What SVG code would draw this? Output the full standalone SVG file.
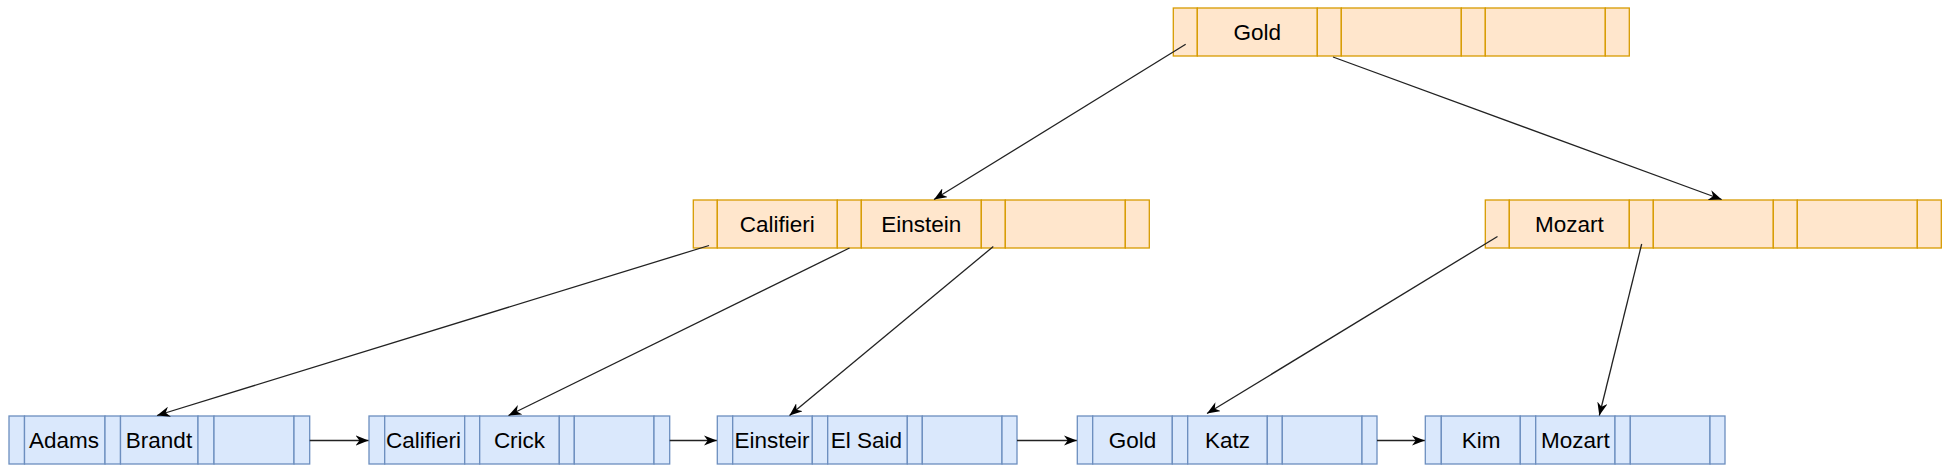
<svg xmlns="http://www.w3.org/2000/svg" width="1950" height="474" viewBox="0 0 1950 474">
<style>
.o{fill:#ffe6cc;stroke:#d79b00;stroke-width:1.3}
.b{fill:#dae8fc;stroke:#6c8ebf;stroke-width:1.3}
.t{font-family:"Liberation Sans",Arial,sans-serif;font-size:22.5px;fill:#000;text-anchor:middle}
.e{fill:none;stroke:#222;stroke-width:1.3}
</style>
<defs>
<marker id="a" viewBox="0 0 10 8" markerUnits="userSpaceOnUse" markerWidth="13" markerHeight="10.4" refX="10" refY="4" orient="auto">
<path d="M0,0 L10,4 L0,8 L3,4 Z" fill="#000"/>
</marker>
</defs>
<rect width="1950" height="474" fill="#fff"/>

<g id="root">
<rect class="o" x="1173.3" y="8" width="24" height="48"/>
<rect class="o" x="1197.3" y="8" width="120" height="48"/>
<rect class="o" x="1317.3" y="8" width="24" height="48"/>
<rect class="o" x="1341.3" y="8" width="120" height="48"/>
<rect class="o" x="1461.3" y="8" width="24" height="48"/>
<rect class="o" x="1485.3" y="8" width="120" height="48"/>
<rect class="o" x="1605.3" y="8" width="24" height="48"/>
<text class="t" x="1257.3" y="39.5">Gold</text>
</g>

<g id="mid-left">
<rect class="o" x="693.3" y="200" width="24" height="48"/>
<rect class="o" x="717.3" y="200" width="120" height="48"/>
<rect class="o" x="837.3" y="200" width="24" height="48"/>
<rect class="o" x="861.3" y="200" width="120" height="48"/>
<rect class="o" x="981.3" y="200" width="24" height="48"/>
<rect class="o" x="1005.3" y="200" width="120" height="48"/>
<rect class="o" x="1125.3" y="200" width="24" height="48"/>
<text class="t" x="777.3" y="231.5">Califieri</text>
<text class="t" x="921.3" y="231.5">Einstein</text>
</g>

<g id="mid-right">
<rect class="o" x="1485.3" y="200" width="24" height="48"/>
<rect class="o" x="1509.3" y="200" width="120" height="48"/>
<rect class="o" x="1629.3" y="200" width="24" height="48"/>
<rect class="o" x="1653.3" y="200" width="120" height="48"/>
<rect class="o" x="1773.3" y="200" width="24" height="48"/>
<rect class="o" x="1797.3" y="200" width="120" height="48"/>
<rect class="o" x="1917.3" y="200" width="24" height="48"/>
<text class="t" x="1569.3" y="231.5">Mozart</text>
</g>

<g id="leaf1">
<rect class="b" x="9" y="416" width="15.5" height="48"/>
<rect class="b" x="24.5" y="416" width="80.5" height="48"/>
<rect class="b" x="105" y="416" width="15.5" height="48"/>
<rect class="b" x="120.5" y="416" width="77.5" height="48"/>
<rect class="b" x="198" y="416" width="16" height="48"/>
<rect class="b" x="214" y="416" width="80" height="48"/>
<rect class="b" x="294" y="416" width="15.7" height="48"/>
<text class="t" x="64" y="447.5">Adams</text>
<text class="t" x="159" y="447.5">Brandt</text>
</g>

<g id="leaf2">
<rect class="b" x="369" y="416" width="15.7" height="48"/>
<rect class="b" x="384.7" y="416" width="80" height="48"/>
<rect class="b" x="464.7" y="416" width="15" height="48"/>
<rect class="b" x="479.7" y="416" width="79.6" height="48"/>
<rect class="b" x="559.3" y="416" width="15" height="48"/>
<rect class="b" x="574.3" y="416" width="79.7" height="48"/>
<rect class="b" x="654" y="416" width="15.7" height="48"/>
<text class="t" x="423.5" y="447.5">Califieri</text>
<text class="t" x="519.5" y="447.5">Crick</text>
</g>

<g id="leaf3">
<rect class="b" x="717.3" y="416" width="15.4" height="48"/>
<rect class="b" x="732.7" y="416" width="79.6" height="48"/>
<rect class="b" x="812.3" y="416" width="15.4" height="48"/>
<rect class="b" x="827.7" y="416" width="79.6" height="48"/>
<rect class="b" x="907.3" y="416" width="15" height="48"/>
<rect class="b" x="922.3" y="416" width="79.7" height="48"/>
<rect class="b" x="1002" y="416" width="15" height="48"/>
<text class="t" x="772" y="447.5">Einsteir</text>
<text class="t" x="866.5" y="447.5">El Said</text>
</g>

<g id="leaf4">
<rect class="b" x="1077.3" y="416" width="15.4" height="48"/>
<rect class="b" x="1092.7" y="416" width="79.6" height="48"/>
<rect class="b" x="1172.3" y="416" width="15.4" height="48"/>
<rect class="b" x="1187.7" y="416" width="79.6" height="48"/>
<rect class="b" x="1267.3" y="416" width="15" height="48"/>
<rect class="b" x="1282.3" y="416" width="79.7" height="48"/>
<rect class="b" x="1362" y="416" width="15" height="48"/>
<text class="t" x="1132.5" y="447.5">Gold</text>
<text class="t" x="1227.5" y="447.5">Katz</text>
</g>

<g id="leaf5">
<rect class="b" x="1425.3" y="416" width="16" height="48"/>
<rect class="b" x="1441.3" y="416" width="79" height="48"/>
<rect class="b" x="1520.3" y="416" width="15.4" height="48"/>
<rect class="b" x="1535.7" y="416" width="79.3" height="48"/>
<rect class="b" x="1615" y="416" width="15.3" height="48"/>
<rect class="b" x="1630.3" y="416" width="79.7" height="48"/>
<rect class="b" x="1710" y="416" width="15" height="48"/>
<text class="t" x="1481" y="447.5">Kim</text>
<text class="t" x="1575.3" y="447.5">Mozart</text>
</g>

<g id="connectors">
<line class="e" x1="1185.7" y1="44.3" x2="934" y2="199.5" marker-end="url(#a)"/>
<line class="e" x1="1333" y1="57" x2="1721.7" y2="199.5" marker-end="url(#a)"/>
<line class="e" x1="709" y1="245.5" x2="157" y2="415.5" marker-end="url(#a)"/>
<line class="e" x1="849.5" y1="248" x2="508.5" y2="415.5" marker-end="url(#a)"/>
<line class="e" x1="993.3" y1="246.5" x2="789.5" y2="415.5" marker-end="url(#a)"/>
<line class="e" x1="1497.5" y1="236.5" x2="1207" y2="413.5" marker-end="url(#a)"/>
<line class="e" x1="1641.7" y1="244" x2="1599.3" y2="415.5" marker-end="url(#a)"/>
<line class="e" x1="309.7" y1="440.5" x2="368.5" y2="440.5" marker-end="url(#a)"/>
<line class="e" x1="669.7" y1="440.5" x2="716.8" y2="440.5" marker-end="url(#a)"/>
<line class="e" x1="1017" y1="440.5" x2="1076.8" y2="440.5" marker-end="url(#a)"/>
<line class="e" x1="1377" y1="440.5" x2="1424.8" y2="440.5" marker-end="url(#a)"/>
</g>
</svg>
